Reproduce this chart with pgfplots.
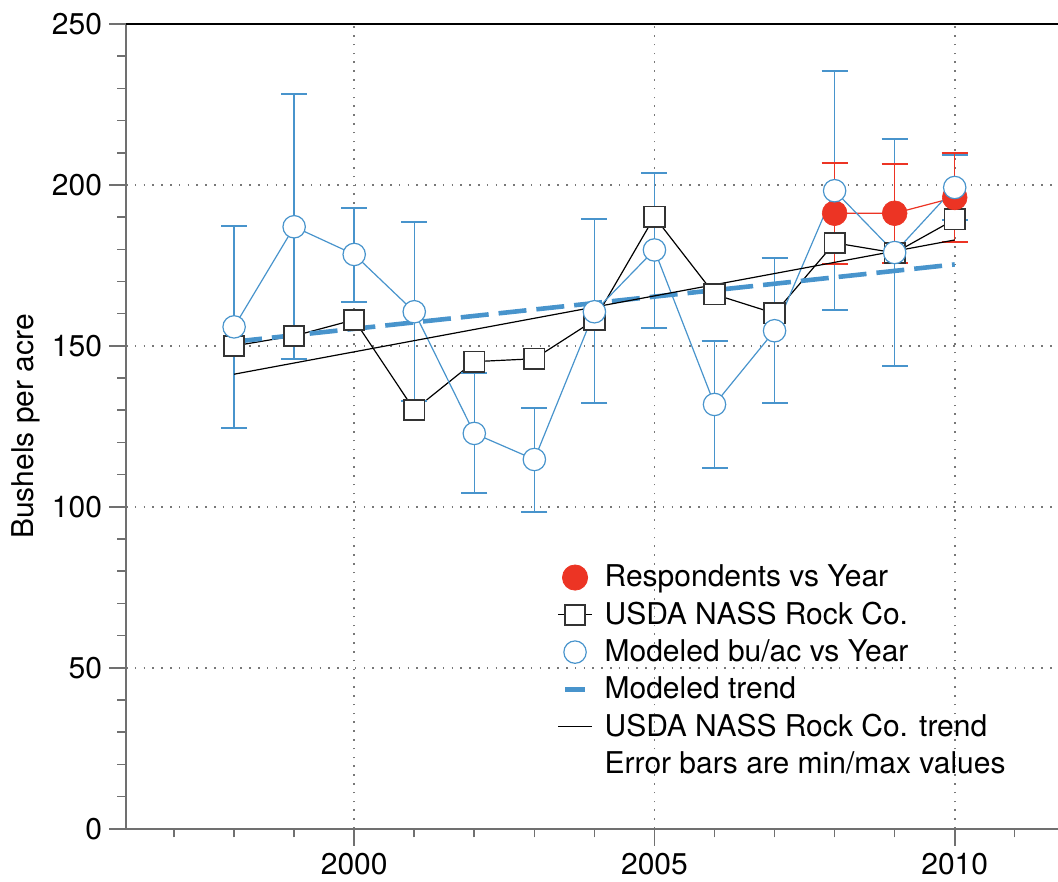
\documentclass[border=0pt]{standalone}
\usepackage{fontspec}
\setmainfont{TeX Gyre Heros}
\usepackage{pgfplots}
\pgfplotsset{compat=1.18}
\usepackage{pgfplotstable}

\definecolor{modblue}{RGB}{72,148,204}
\definecolor{respred}{RGB}{236,52,36}
\definecolor{axisgray}{RGB}{112,112,112}
\definecolor{gridgray}{RGB}{120,120,120}

\pgfplotsset{short dash legend/.style={legend image code/.code={\draw[##1] (3.5bp,0bp) -- (13.5bp,0bp);}}}

% Modeled yield with its min/max range
\pgfplotstableread{
year yield ymin  ymax
1998 155.9 124.4 187.2
1999 187.0 145.8 228.2
2000 178.4 163.7 192.9
2001 160.6 133.0 188.5
2002 122.8 104.2 141.5
2003 114.7  98.5 130.6
2004 160.6 132.1 189.3
2005 179.8 155.4 203.6
2006 131.8 112.1 151.5
2007 154.7 132.3 177.2
2008 198.2 161.1 235.4
2009 179.0 143.8 214.2
2010 199.2 189.2 209.2
}\modeled

% USDA NASS county yields
\pgfplotstableread{
year yield
1998 150.0
1999 153.1
2000 158.1
2001 130.1
2002 145.1
2003 146.0
2004 158.0
2005 190.1
2006 166.0
2007 160.1
2008 182.0
2009 178.9
2010 189.3
}\usda

% Survey respondents with min/max range
\pgfplotstableread{
year yield ymin  ymax
2008 191.2 175.4 206.8
2009 191.2 175.6 206.6
2010 196.1 182.3 210.0
}\resp

% Linear trends (end points)
\pgfplotstableread{
year modeled usda
1998 151.3 141.2
2010 175.3 182.9
}\trends

\newcommand{\chartfont}{\fontsize{15bp}{18bp}\selectfont}

\begin{document}
\begin{tikzpicture}
\begin{axis}[
  scale only axis,
  width=466bp, height=402.35bp,
  xmin=1996.2, xmax=2011.72,
  ymin=0, ymax=250,
  axis x line=bottom, axis y line=left,
  axis line style={-, draw=axisgray, line width=0.9bp},
  xtick={2000,2005,2010},
  minor xtick={1997,...,2011},
  ytick={0,50,...,250},
  minor y tick num=4,
  tick align=outside,
  major tick length=8.5bp,
  minor tick length=4.3bp,
  every tick/.style={draw=axisgray, line width=0.8bp},
  xmajorgrids, ymajorgrids,
  major grid style={draw=gridgray, line width=0.8bp, dash pattern=on 0.8bp off 3.6bp},
  tick label style={font=\chartfont},
  /pgf/number format/assume math mode=true,
  xticklabel style={/pgf/number format/1000 sep={}},
  yticklabel style={/pgf/number format/1000 sep={}},
  ylabel={Bushels per acre},
  every axis y label/.style={at={(axis description cs:-0.108,0.5)}, rotate=90, anchor=center, font=\chartfont},
  legend style={draw=none, fill=none, font=\chartfont,
    at={(axis description cs:0.4625,0.3330)}, anchor=north west,
    inner sep=0pt, row sep=2.1pt,
    /tikz/every odd column/.append style={column sep=4bp}},
  legend cell align=left,
]

% USDA NASS
\addplot[forget plot, black, line width=0.6bp, mark=square*, mark size=5.1bp,
  mark options={draw=black!80, line width=0.9bp, fill=white}]
  table[x=year, y=yield] {\usda};

% modeled: min/max bars
\addplot[forget plot, modblue, only marks, mark=none,
  error bars/.cd, y dir=both, y explicit,
  error bar style={line width=0.7bp, modblue},
  error mark options={rotate=90, line width=1bp, mark size=6.5bp, modblue}]
  table[x=year, y=yield,
        y error plus expr=\thisrow{ymax}-\thisrow{yield},
        y error minus expr=\thisrow{yield}-\thisrow{ymin}] {\modeled};

% respondents
\addplot[forget plot, respred, line width=0.6bp, mark=*, mark size=6.2bp,
  mark options={fill=respred, draw=respred, line width=0.3bp},
  error bars/.cd, y dir=both, y explicit,
  error bar style={line width=0.7bp, respred},
  error mark options={rotate=90, line width=1bp, mark size=6.5bp, respred}]
  table[x=year, y=yield,
        y error plus expr=\thisrow{ymax}-\thisrow{yield},
        y error minus expr=\thisrow{yield}-\thisrow{ymin}] {\resp};

% modeled: open circles and connecting line
\addplot[forget plot, modblue, only marks, mark=*, mark size=5.6bp,
  mark options={fill=white, draw=modblue, line width=0.6bp}]
  table[x=year, y=yield] {\modeled};
\addplot[forget plot, modblue, line width=0.6bp, no markers]
  table[x=year, y=yield] {\modeled};

% trends
\addplot[forget plot, modblue, line width=2.3bp, dash pattern=on 14bp off 5bp]
  table[x=year, y=modeled] {\trends};
\addplot[forget plot, black, line width=0.6bp]
  table[x=year, y=usda] {\trends};

\addlegendimage{only marks, mark=*, mark size=6.3bp, respred, mark options={fill=respred, draw=respred}}
\addlegendentry{Respondents vs Year}
\addlegendimage{black, line width=0.6bp, mark=square*, mark size=5bp, mark options={draw=black!80, fill=white, line width=0.9bp}}
\addlegendentry{USDA NASS Rock Co.}
\addlegendimage{only marks, mark=o, mark size=5.6bp, modblue, mark options={line width=0.6bp}}
\addlegendentry{Modeled bu/ac vs Year}
\addlegendimage{modblue, line width=2.4bp, short dash legend}
\addlegendentry{Modeled trend}
\addlegendimage{black, line width=0.6bp}
\addlegendentry{USDA NASS Rock Co. trend}
\addlegendimage{empty legend}
\addlegendentry{Error bars are min/max values}
\end{axis}
\draw[black, line width=0.9bp] (current axis.north west) -- (current axis.north east);
\pgfresetboundingbox
\path[use as bounding box] (-63bp,-26.65bp) rectangle (466bp,414.35bp);
\end{tikzpicture}
\end{document}
